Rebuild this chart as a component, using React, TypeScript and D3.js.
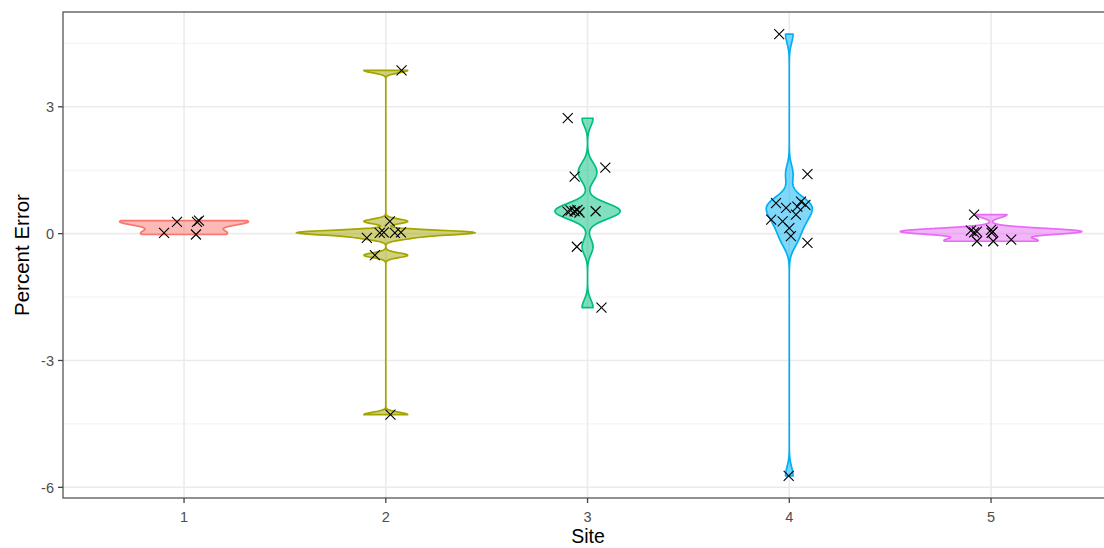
import React from "react";
import * as d3 from "d3";

// Percent error measurements per site, with the horizontal jitter (in site units) of each mark
const sites = ["1", "2", "3", "4", "5"];
const siteColors = ["#F8766D", "#A3A500", "#00BF7D", "#00B0F6", "#E76BF3"];

const site1Values = [0.02, 0.28, 0.28, 0.31, -0.02];
const site1Jitter = [-0.099, -0.035, 0.064, 0.074, 0.059];

const site2Values = [3.86, 0.29, 0.02, 0.03, 0.02, 0.03, -0.1, -0.51, -4.28];
const site2Jitter = [0.078, 0.02, -0.03, -0.01, 0.045, 0.075, -0.094, -0.054, 0.023];

const site3Values = [2.73, 1.56, 1.35, 0.52, 0.55, 0.53, 0.56, 0.53, 0.5, -0.31, -1.75];
const site3Jitter = [-0.098, 0.088, -0.064, -0.099, -0.084, -0.064, -0.05, 0.04, -0.04, -0.053, 0.069];

const site4Values = [4.72, 1.41, 0.72, 0.61, 0.76, 0.68, 0.64, 0.45, 0.33, 0.29, 0.13, -0.06, -0.22, -5.73];
const site4Jitter = [-0.05, 0.09, -0.066, -0.016, 0.058, 0.08, 0.04, 0.033, -0.09, -0.033, 0.0, 0.008, 0.09, -0.003];

const site5Values = [0.45, 0.07, 0.03, -0.18, 0.09, 0.05, 0.02, -0.18, -0.14, 0.05];
const site5Jitter = [-0.084, -0.1, -0.084, -0.07, 0.0, 0.008, 0.003, 0.011, 0.1, -0.07];

const yMajorTicks = [-6, -3, 0, 3];
const yMinorTicks = [-4.5, -1.5, 1.5, 4.5];

const groups = [
  { values: site1Values, jitter: site1Jitter },
  { values: site2Values, jitter: site2Jitter },
  { values: site3Values, jitter: site3Jitter },
  { values: site4Values, jitter: site4Jitter },
  { values: site5Values, jitter: site5Jitter },
];

const W = 1104;
const H = 548;
const panel = { left: 63, top: 12, bottom: 498 };

// R's bw.nrd0 bandwidth rule
function bwNrd0(xs: number[]): number {
  const s = [...xs].sort((a, b) => a - b);
  const sd = d3.deviation(s) ?? 0;
  const iqr = (d3.quantileSorted(s, 0.75) ?? 0) - (d3.quantileSorted(s, 0.25) ?? 0);
  let lo = Math.min(sd, iqr / 1.34);
  if (!lo) lo = sd || Math.abs(s[0]) || 1;
  return 0.9 * lo * Math.pow(s.length, -0.2);
}

// Gaussian kernel density trimmed to the data range
function density(xs: number[], nPts = 512) {
  const bw = bwNrd0(xs);
  const [lo, hi] = d3.extent(xs) as [number, number];
  const n = xs.length;
  const k = 1 / (n * bw * Math.sqrt(2 * Math.PI));
  return d3.range(nPts).map((i) => {
    const v = lo + ((hi - lo) * i) / (nPts - 1);
    let sum = 0;
    for (const x of xs) {
      const u = (v - x) / bw;
      sum += Math.exp(-0.5 * u * u);
    }
    return { v, d: sum * k };
  });
}

export default function App() {
  const allValues = groups.flatMap((g) => g.values);
  const [yMin, yMax] = d3.extent(allValues) as [number, number];
  const pad = (yMax - yMin) * 0.05;
  const y = d3.scaleLinear().domain([yMin - pad, yMax + pad]).range([panel.bottom, panel.top]);

  // discrete x axis with a 0.6 expansion on each side
  const step = 201.75;
  const x = d3
    .scaleLinear()
    .domain([0.4, 5.6])
    .range([panel.left, panel.left + step * 5.2]);
  const panelRight = x(5.6);

  const dens = groups.map((g) => density(g.values));
  const maxD = d3.max(dens.flat(), (p) => p.d) as number;
  const halfMax = 0.45 * step;

  const font = "'Liberation Sans', Arial, Helvetica, sans-serif";

  return (
    <svg
      width={W}
      height={H}
      style={{ position: "absolute", left: 0, top: 0, display: "block", background: "#fff" }}
    >
      <rect x={panel.left} y={panel.top} width={panelRight - panel.left} height={panel.bottom - panel.top} fill="#fff" />
      {yMinorTicks.map((t) => (
        <line key={"mn" + t} x1={panel.left} x2={panelRight} y1={y(t)} y2={y(t)} stroke="#F2F2F2" strokeWidth={1} />
      ))}
      {yMajorTicks.map((t) => (
        <line key={"mj" + t} x1={panel.left} x2={panelRight} y1={y(t)} y2={y(t)} stroke="#EBEBEB" strokeWidth={1.6} />
      ))}
      {sites.map((s, i) => (
        <line key={"vx" + s} x1={x(i + 1)} x2={x(i + 1)} y1={panel.top} y2={panel.bottom} stroke="#EBEBEB" strokeWidth={1.6} />
      ))}

      {groups.map((g, i) => {
        const cx = x(i + 1);
        const area = d3
          .area<{ v: number; d: number }>()
          .y((p) => y(p.v))
          .x0((p) => cx - (p.d / maxD) * halfMax)
          .x1((p) => cx + (p.d / maxD) * halfMax);
        return (
          <path
            key={"v" + i}
            d={area(dens[i]) as string}
            fill={siteColors[i]}
            fillOpacity={0.5}
            stroke={siteColors[i]}
            strokeWidth={1.7}
            strokeLinejoin="round"
          />
        );
      })}

      {groups.map((g, i) =>
        g.values.map((v, j) => {
          const px = x(i + 1 + g.jitter[j]);
          const py = y(v);
          const r = 5;
          return (
            <path
              key={`p${i}-${j}`}
              d={`M${px - r},${py - r}L${px + r},${py + r}M${px - r},${py + r}L${px + r},${py - r}`}
              stroke="#000"
              strokeWidth={1.1}
              fill="none"
            />
          );
        })
      )}

      <rect
        x={panel.left}
        y={panel.top}
        width={panelRight - panel.left}
        height={panel.bottom - panel.top}
        fill="none"
        stroke="#555"
        strokeWidth={1.3}
      />

      {yMajorTicks.map((t) => (
        <g key={"yt" + t}>
          <line x1={panel.left - 5} x2={panel.left} y1={y(t)} y2={y(t)} stroke="#444" strokeWidth={1.3} />
          <text
            x={panel.left - 9}
            y={y(t)}
            dy="0.36em"
            textAnchor="end"
            fontFamily={font}
            fontSize={14.5}
            fill="#4D4D4D"
          >
            {t}
          </text>
        </g>
      ))}
      {sites.map((s, i) => (
        <g key={"xt" + s}>
          <line x1={x(i + 1)} x2={x(i + 1)} y1={panel.bottom} y2={panel.bottom + 5} stroke="#444" strokeWidth={1.3} />
          <text x={x(i + 1)} y={521.5} textAnchor="middle" fontFamily={font} fontSize={14.5} fill="#4D4D4D">
            {s}
          </text>
        </g>
      ))}

      <text x={588} y={543} textAnchor="middle" fontFamily={font} fontSize={19.5} fill="#000">
        Site
      </text>
      <text
        transform={`translate(28.5,${(panel.top + panel.bottom) / 2}) rotate(-90)`}
        textAnchor="middle"
        fontFamily={font}
        fontSize={20.5}
        fill="#000"
      >
        Percent Error
      </text>
    </svg>
  );
}
